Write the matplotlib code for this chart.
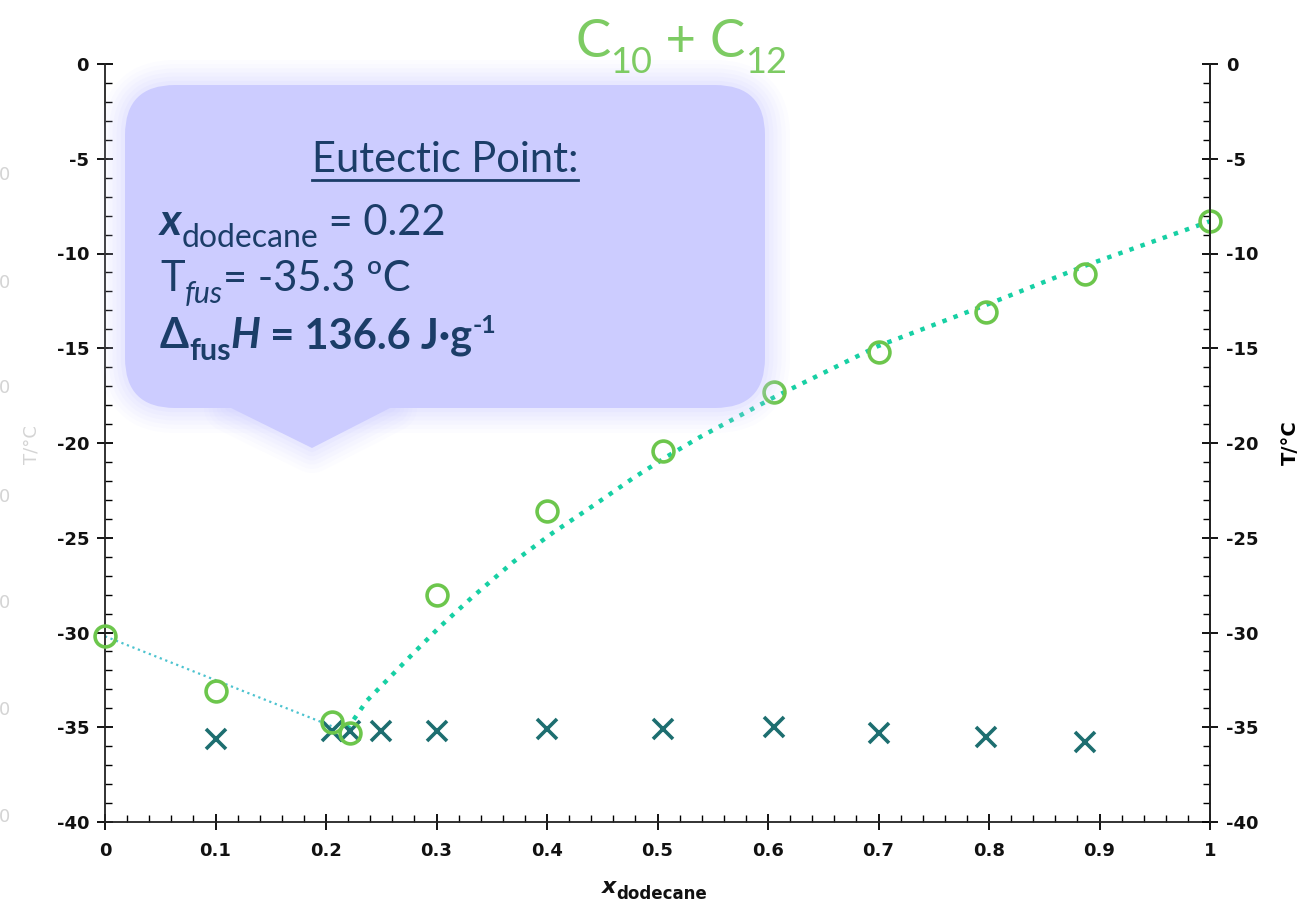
import numpy as np
import matplotlib
matplotlib.use("Agg")
import matplotlib.pyplot as plt
from matplotlib.patches import FancyBboxPatch, Polygon
from matplotlib.transforms import IdentityTransform

plt.rcParams['axes.unicode_minus'] = False

# liquidus points (circles)
x_liq = [0.0, 0.10, 0.205, 0.222, 0.30, 0.40, 0.505, 0.605, 0.70, 0.797, 0.887, 1.0]
t_liq = [-30.2, -33.1, -34.7, -35.3, -28.0, -23.6, -20.4, -17.3, -15.2, -13.1, -11.1, -8.3]

# eutectic / solidus points (crosses)
x_sol = [0.10, 0.205, 0.222, 0.25, 0.30, 0.40, 0.505, 0.605, 0.70, 0.797, 0.887]
t_sol = [-35.6, -35.2, -35.2, -35.2, -35.2, -35.1, -35.1, -35.0, -35.3, -35.5, -35.8]

# fitted curves
x_fit_left = [0.0, 0.212]
t_fit_left = [-30.2, -35.1]
x_fit_right = [0.219, 0.237, 0.279, 0.303, 0.333, 0.369, 0.405, 0.442, 0.478,
               0.509, 0.538, 0.605, 0.699, 0.798, 0.889, 1.0]
t_fit_right = [-35.1, -33.6, -31.1, -29.7, -28.1, -26.3, -24.75, -23.3, -21.85,
               -20.7, -19.7, -17.6, -14.9, -12.7, -10.6, -8.3]

x_ticks = [0, 0.1, 0.2, 0.3, 0.4, 0.5, 0.6, 0.7, 0.8, 0.9, 1.0]
x_labels = ['0', '0.1', '0.2', '0.3', '0.4', '0.5', '0.6', '0.7', '0.8', '0.9', '1']
y_ticks = [0, -5, -10, -15, -20, -25, -30, -35, -40]

W, H = 1307, 916
fig = plt.figure(figsize=(W / 100, H / 100), dpi=100)
ax = fig.add_axes([105 / W, 1 - 822 / H, 1105 / W, 758 / H])

ax.plot(x_fit_left, t_fit_left, ':', color='#4cc3cf', lw=1.6, zorder=2)
ax.plot(x_fit_right, t_fit_right, ':', color='#17d0a4', lw=3.2, zorder=2)
ax.plot(x_sol, t_sol, 'x', color='#1d6e70', ms=14, mew=2.6, zorder=3)
ax.plot(x_liq, t_liq, 'o', mfc='none', mec='#6cc64c', ms=15, mew=2.6, zorder=4,
        clip_on=False)

ax.set_xlim(0, 1)
ax.set_ylim(-40, 0)
ax.set_xticks(x_ticks)
ax.set_xticklabels(x_labels)
ax.set_xticks(np.arange(0, 1.001, 0.02), minor=True)
ax.set_yticks(y_ticks)
ax.set_yticks(np.arange(-40, 0.1, 1), minor=True)

for s in ['left', 'bottom', 'right']:
    ax.spines[s].set_linewidth(1.3)
    ax.spines[s].set_color('#222222')
ax.spines['top'].set_visible(False)

lab = dict(fontsize=13, fontweight='heavy', family='DejaVu Sans', color='#111111')
ax.tick_params(which='major', direction='inout', length=11, width=1.3, pad=6)
ax.tick_params(axis='x', which='major', pad=9)
ax.tick_params(which='minor', direction='in', length=5, width=1.0)
for t in ax.get_xticklabels() + ax.get_yticklabels():
    t.set(**lab)

ax2 = ax.twinx()
ax2.set_ylim(-40, 0)
ax2.set_yticks(y_ticks)
ax2.set_yticks(np.arange(-40, 0.1, 1), minor=True)
ax2.spines['top'].set_visible(False)
ax2.spines['left'].set_visible(False)
ax2.spines['bottom'].set_visible(False)
ax2.spines['right'].set_linewidth(1.3)
ax2.spines['right'].set_color('#222222')
ax2.tick_params(which='major', direction='inout', length=11, width=1.3, pad=6)
ax2.tick_params(which='minor', direction='in', length=5, width=1.0)
for t in ax2.get_yticklabels():
    t.set(**lab)
ax2.set_ylabel('T/°C', fontsize=14, fontweight='heavy', labelpad=16)

renderer = fig.canvas.get_renderer()
px = IdentityTransform()


def runs(x, y, parts, color, family='Lato', z=20):
    # parts: (text, size, weight, style, dy in px upward)
    for s, size, weight, style, dy in parts:
        t = fig.text(x, H - y + dy, s, transform=px, fontsize=size, fontweight=weight,
                     fontstyle=style, family=family, color=color, va='baseline',
                     ha='left', zorder=z)
        x = t.get_window_extent(renderer).x1


# faint ghost axis on the far left
for yy in [175, 283, 388, 497, 603, 710, 817]:
    fig.text(4, H - yy, '0', transform=px, fontsize=13, color='#d4d4d4',
             ha='center', va='center')
fig.text(32, H - 445, 'T/°C', transform=px, fontsize=13, color='#d4d4d4',
         rotation=90, ha='center', va='center')

# x axis label
runs(602, 893, [('x', 16, 'bold', 'italic', 0),
                ('dodecane', 12, 'bold', 'normal', -6)], '#111111', family='DejaVu Sans')

# title
green = '#7dcb63'
runs(575, 57, [('C', 38, 'normal', 'normal', 0),
               ('10', 26, 'normal', 'normal', -16),
               (' + ', 38, 'normal', 'normal', 0),
               ('C', 38, 'normal', 'normal', 0),
               ('12', 26, 'normal', 'normal', -16)], green)

# callout box with soft glow
bx0, by0, bx1, by1 = 125, 85, 765, 408
lav = '#ccccff'
box_kw = dict(boxstyle='round,pad=0,rounding_size=50', transform=px)
tri = [(229, H - by1 + 1), (392, H - by1 + 1), (312, H - 448)]
for lw, a in [(36, 0.05), (30, 0.06), (24, 0.07), (18, 0.08), (12, 0.1), (6, 0.14)]:
    fig.patches.append(FancyBboxPatch((bx0, H - by1), bx1 - bx0, by1 - by0,
                                      fc='none', ec=lav, lw=lw, alpha=a, **box_kw))
    fig.patches.append(Polygon(tri, closed=True, fc='none', ec=lav, lw=lw, alpha=a,
                               joinstyle='round', transform=px))
fig.patches.append(FancyBboxPatch((bx0, H - by1), bx1 - bx0, by1 - by0,
                                  fc=lav, ec='none', zorder=10, **box_kw))
fig.patches.append(Polygon(tri, closed=True, fc=lav, ec='none', zorder=10, transform=px))

navy = '#1b3d68'
t = fig.text(445, H - 172, 'Eutectic Point:', transform=px, fontsize=30, family='Lato',
             color=navy, ha='center', va='baseline', zorder=20)
bb = t.get_window_extent(renderer)
fig.lines.append(plt.Line2D([bb.x0, bb.x1], [H - 180, H - 180], color=navy, lw=2,
                            transform=px, zorder=20))

runs(160, 235, [('x', 32, 'bold', 'italic', 0),
                ('dodecane', 23, 'normal', 'normal', -12),
                (' = 0.22', 30, 'normal', 'normal', 0)], navy)
runs(160, 291, [('T', 30, 'normal', 'normal', 0),
                ('fus', 22, 'normal', 'italic', -12),
                ('= -35.3 ºC', 30, 'normal', 'normal', 0)], navy)
runs(160, 348, [('Δ', 30, 'bold', 'normal', 0),
                ('fus', 22, 'bold', 'normal', -12),
                ('H', 30, 'bold', 'italic', 0),
                (' = 136.6 J·g', 30, 'bold', 'normal', 0),
                ('-1', 18, 'bold', 'normal', 15)], navy)

fig.savefig('out.png', dpi=100)
